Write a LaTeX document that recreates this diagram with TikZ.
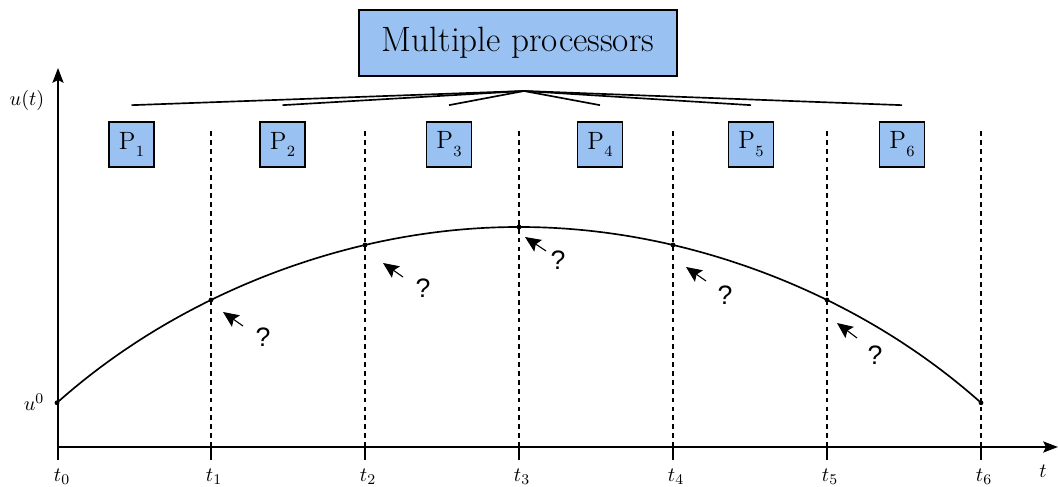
\documentclass[tikz,border=0pt]{standalone}
\usepackage{fontspec}
\newfontfamily\qfont{Liberation Sans}
\usetikzlibrary{arrows.meta,calc}
\definecolor{procblue}{RGB}{153,193,241}
\newcommand{\Psub}[1]{\fontsize{13.5}{16}\selectfont P\kern0.3pt\raisebox{-4.2pt}{\fontsize{8.4}{9}\selectfont #1}}
\tikzset{
 procbox/.style={draw, line width=0.9pt, fill=procblue, inner sep=0pt, minimum size=24.3pt},
 mainbox/.style={draw, line width=0.9pt, fill=procblue, inner sep=0pt, minimum width=171.7pt, minimum height=35.6pt, font=\fontsize{19}{23}\selectfont},
 axis/.style={line width=1pt, -{Stealth[length=8pt,width=6pt,inset=1.5pt]}},
 tline/.style={line width=0.9pt},
 guide/.style={line width=0.8pt, dash pattern=on 2.6pt off 2.2pt},
 tick/.style={line width=1pt},
 sol/.style={line width=0.9pt},
 qarrow/.style={line width=0.6pt, -{Stealth[length=8.5pt,width=7.5pt,inset=1.5pt]}},
 qmark/.style={font=\qfont\Large, inner sep=0pt},
 dot/.style={circle, fill, inner sep=0pt, minimum size=2.6pt},
 mlabel/.style={font=\fontsize{11}{13}\selectfont},
 tlabel/.style={mlabel, anchor=north, inner sep=0pt}
}
\begin{document}
\begin{tikzpicture}[x=0.54pt, y=-0.54pt]
\useasboundingbox (0,0) rectangle (1058,487);

% title box and processors
\node[mainbox] (mp) at (518,43) {Multiple processors};
\coordinate (apex) at (524,91);
\foreach \i/\x in {1/131.5, 2/282.5, 3/449, 4/600, 5/751, 6/902}{
  \node[procbox] (P\i) at (\x,144.5) {\Psub{\i}};
  \coordinate (top\i) at ($(P\i.north)+(0,-16)$);
  \draw[tline] (apex) -- (top\i);
}

% axes
\coordinate (o) at (58,447);
\coordinate (ybot) at (58,460);
\coordinate (ytop) at (58,68);
\coordinate (xend) at (1058,447);
\draw[axis] (ybot) -- (ytop);
\draw[axis] (o) -- (xend);
\node[mlabel] (ul) at (27,100) {$u(t)$};
\node[mlabel] (tl) at (1043,471) {$t$};

% time levels
\node[tlabel] (l0) at (62,469) {$t_0$};
\foreach \i/\x in {1/211, 2/365, 3/519, 4/673, 5/827, 6/981}{
  \coordinate (g\i) at (\x,131);
  \coordinate (b\i) at (\x,447);
  \coordinate (k\i) at (\x,460);
  \draw[guide] (g\i) -- (b\i);
  \draw[tick] (b\i) -- (k\i);
  \node[tlabel] (l\i) at (\x+3,469) {$t_{\i}$};
}

% solution curve
\draw[sol] plot[domain=-3:3, samples=121, smooth] ({519+154*\x}, {227+18*\x*\x-0.028*\x*\x*\x*\x+0.022*\x*\x*\x*\x*\x*\x});
\foreach \i in {0,...,6}{
  \coordinate (c\i) at ({519+154*(\i-3)}, {227+18*(\i-3)^2-0.028*(\i-3)^4+0.022*(\i-3)^6});
  \node[dot] at (c\i) {};
}
\node[mlabel] (u0) at (34,402) {$u^0$};

% question arrows
\foreach \i/\tx/\ty/\hx/\hy/\qx/\qy in {1/243/326/223/312/263/337, 2/403/277/383/263/423/288, 3/546/251/525/237/558/260, 4/706/281/686/267/725/295, 5/857/338/837/323/875/355}{
  \coordinate (at\i) at (\tx,\ty);
  \coordinate (ah\i) at (\hx,\hy);
  \node[qmark] (q\i) at (\qx,\qy) {?};
  \draw[qarrow] (at\i) -- (ah\i);
}
\end{tikzpicture}
\end{document}
